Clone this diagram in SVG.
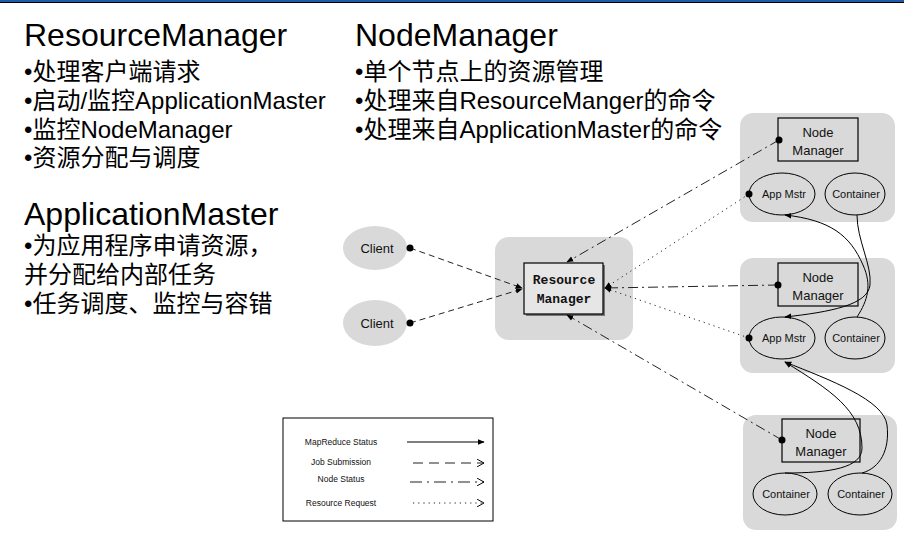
<svg xmlns="http://www.w3.org/2000/svg" width="904" height="559" viewBox="0 0 904 559">
<style>
.t{font-family:"Liberation Sans","Noto Sans CJK SC",sans-serif;fill:#000}
.h{font-size:32px}
.b{font-size:24px}
.grp{fill:#D9D9D9}
.box{fill:#D9D9D9;stroke:#000;stroke-width:1.2}
.ell{fill:#D9D9D9;stroke:#000;stroke-width:1}
.lbl{font-family:"Liberation Sans",sans-serif;font-size:13px;fill:#111;text-anchor:middle}
.sm{font-family:"Liberation Sans",sans-serif;font-size:11px;fill:#111;text-anchor:middle}
.lg{font-family:"Liberation Sans",sans-serif;font-size:8.5px;fill:#111;text-anchor:middle}
.ln{fill:none;stroke:#222;stroke-width:1}
.js{stroke-dasharray:6 4}
.ns{stroke-dasharray:10 4 2 4}
.rr{stroke-dasharray:1.2 4}
.ljs{stroke-dasharray:10 6}
.lns{stroke-dasharray:12 5 2 5}
.mr{fill:none;stroke:#000;stroke-width:1}
.dot{fill:#000}
</style>
<defs>
<marker id="af" viewBox="0 0 10 10" refX="9" refY="5" markerWidth="7" markerHeight="7" orient="auto" markerUnits="userSpaceOnUse"><path d="M0,1 L10,5 L0,9 z" fill="#000"/></marker>
<marker id="ao" viewBox="0 0 10 10" refX="9" refY="5" markerWidth="8" markerHeight="8" orient="auto" markerUnits="userSpaceOnUse"><path d="M0,0 L9,5 L0,10" fill="none" stroke="#000" stroke-width="1.2"/></marker>
</defs>
<rect x="0" y="0" width="904" height="2" fill="#1F5BA6"/>
<rect x="0" y="2" width="904" height="1" fill="#000"/>

<g id="text-rm">
<text class="t h" x="24" y="46">ResourceManager</text>
<text class="t b" x="24" y="80">•处理客户端请求</text>
<text class="t b" x="24" y="109">•启动/监控ApplicationMaster</text>
<text class="t b" x="24" y="138">•监控NodeManager</text>
<text class="t b" x="24" y="166">•资源分配与调度</text>
</g>
<g id="text-am">
<text class="t h" x="24" y="225">ApplicationMaster</text>
<text class="t b" x="24" y="254">•为应用程序申请资源，</text>
<text class="t b" x="24" y="283">并分配给内部任务</text>
<text class="t b" x="24" y="312">•任务调度、监控与容错</text>
</g>
<g id="text-nm">
<text class="t h" x="355" y="46">NodeManager</text>
<text class="t b" x="355" y="80">•单个节点上的资源管理</text>
<text class="t b" x="355" y="109">•处理来自ResourceManger的命令</text>
<text class="t b" x="355" y="138">•处理来自ApplicationMaster的命令</text>
</g>

<g id="client1"><ellipse cx="375" cy="248" rx="32" ry="22" fill="#D9D9D9"/><text class="lbl" x="377" y="253">Client</text></g>
<g id="client2"><ellipse cx="375" cy="323" rx="32" ry="23" fill="#D9D9D9"/><text class="lbl" x="377" y="328">Client</text></g>

<g id="rm">
<rect class="grp" x="495" y="237" width="138" height="103" rx="14"/>
<rect x="526" y="265" width="79" height="51" fill="#777"/>
<rect x="524" y="263" width="79" height="51" fill="#E6E6E6" stroke="#000" stroke-width="1.2"/>
<text x="564" y="284" font-family="Liberation Mono,monospace" font-weight="bold" font-size="13" text-anchor="middle" fill="#111">Resource</text>
<text x="564" y="303" font-family="Liberation Mono,monospace" font-weight="bold" font-size="13" text-anchor="middle" fill="#111">Manager</text>
</g>

<g id="node1">
<rect class="grp" x="740" y="113" width="155" height="109" rx="13"/>
<rect class="box" x="778" y="118" width="80" height="43"/>
<text class="lbl" x="818" y="137">Node</text><text class="lbl" x="818" y="155">Manager</text>
<ellipse class="ell" cx="782" cy="194" rx="33" ry="21"/><text class="sm" x="784" y="198">App Mstr</text>
<ellipse class="ell" cx="855" cy="194" rx="30" ry="21"/><text class="sm" x="856" y="198">Container</text>
</g>
<g id="node2">
<rect class="grp" x="740" y="258" width="155" height="115" rx="13"/>
<rect class="box" x="778" y="263" width="80" height="43"/>
<text class="lbl" x="818" y="282">Node</text><text class="lbl" x="818" y="300">Manager</text>
<ellipse class="ell" cx="782" cy="338" rx="33" ry="21"/><text class="sm" x="784" y="342">App Mstr</text>
<ellipse class="ell" cx="855" cy="338" rx="30" ry="21"/><text class="sm" x="856" y="342">Container</text>
</g>
<g id="node3">
<rect class="grp" x="743" y="415" width="154" height="115" rx="13"/>
<rect class="box" x="782" y="419" width="78" height="43"/>
<text class="lbl" x="821" y="438">Node</text><text class="lbl" x="821" y="456">Manager</text>
<ellipse class="ell" cx="785" cy="494" rx="32" ry="21"/><text class="sm" x="786" y="498">Container</text>
<ellipse class="ell" cx="860" cy="494" rx="32" ry="21"/><text class="sm" x="861" y="498">Container</text>
</g>

<g id="connectors">
<line class="ln js" x1="410" y1="248" x2="522" y2="288" marker-end="url(#af)"/>
<line class="ln js" x1="410" y1="323" x2="522" y2="289" marker-end="url(#af)"/>
<line class="ln ns" x1="779" y1="140" x2="567" y2="262" marker-end="url(#af)"/>
<line class="ln rr" x1="749" y1="194" x2="605" y2="288" marker-end="url(#af)"/>
<line class="ln ns" x1="778" y1="285" x2="605" y2="288" marker-end="url(#af)"/>
<line class="ln rr" x1="749" y1="338" x2="605" y2="288" marker-end="url(#af)"/>
<line class="ln ns" x1="782" y1="440" x2="567" y2="315" marker-end="url(#af)"/>
<path class="mr" d="M857,215 C857,240 872,265 870,285 C868,305 830,312 785,317" marker-end="url(#af)"/>
<path class="mr" d="M857,317 C868,300 872,285 863,265 C850,235 830,220 785,215" marker-end="url(#af)"/>
<path class="mr" d="M785,473 C830,473 862,468 862,448 C862,410 830,390 785,362" marker-end="url(#af)"/>
<path class="mr" d="M862,473 C880,468 890,450 887,425 C884,400 830,380 785,362" marker-end="url(#af)"/>
<circle class="dot" cx="410" cy="248" r="3.5"/>
<circle class="dot" cx="410" cy="323" r="3.5"/>
<circle class="dot" cx="779" cy="140" r="3.5"/>
<circle class="dot" cx="749" cy="194" r="3.5"/>
<circle class="dot" cx="778" cy="285" r="3.5"/>
<circle class="dot" cx="749" cy="338" r="3.5"/>
<circle class="dot" cx="782" cy="440" r="3.5"/>
</g>

<g id="legend">
<rect x="283" y="418" width="210" height="103" fill="#fff" stroke="#000" stroke-width="1"/>
<text class="lg" x="341" y="445">MapReduce Status</text>
<text class="lg" x="341" y="465">Job Submission</text>
<text class="lg" x="341" y="482">Node Status</text>
<text class="lg" x="341" y="506">Resource Request</text>
<line class="mr" x1="407" y1="442" x2="484" y2="442" marker-end="url(#af)"/>
<line class="ln ljs" x1="413" y1="463" x2="484" y2="463" marker-end="url(#ao)"/>
<line class="ln lns" x1="410" y1="482" x2="484" y2="482" marker-end="url(#ao)"/>
<line class="ln rr" x1="413" y1="503" x2="484" y2="503" marker-end="url(#ao)"/>
</g>
</svg>
